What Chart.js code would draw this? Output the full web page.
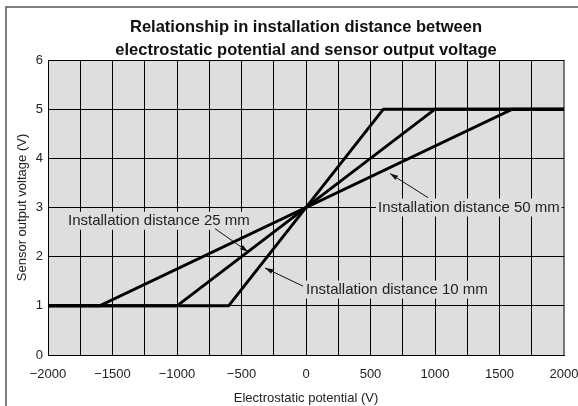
<!DOCTYPE html>
<html>
<head>
<meta charset="utf-8">
<script src="https://cdn.jsdelivr.net/npm/chart.js@4/dist/chart.umd.min.js"></script>
<style>
  html, body { margin: 0; padding: 0; background: #fff; }
</style>
</head>
<body>
<canvas id="distanceChart" width="578" height="406"></canvas>
<script>
// values
const potential10 = [-2000, -600, 600, 2000];
const potential25 = [-2000, -1000, 1000, 2000];
const potential50 = [-2000, -1600, 1600, 2000];
const outputVoltage = [1, 1, 5, 5];
const seriesNames = ["Installation distance 10 mm", "Installation distance 25 mm", "Installation distance 50 mm"];
const titleLines = ["Relationship in installation distance between", "electrostatic potential and sensor output voltage"];

const FONT = "'Liberation Sans', Arial, Helvetica, sans-serif";
const PLOT_BG = "#dedede";

function toPoints(xs) {
  return xs.map((x, i) => ({ x: x, y: outputVoltage[i] }));
}

// leader-line labels, positions in data units
const callouts = [
  { text: seriesNames[1], at: [-1845, 2.73], from: [-705, 2.57], to: [-450, 2.1] },
  { text: seriesNames[0], at: [0, 1.33], from: [-23, 1.4], to: [-318, 1.77] },
  { text: seriesNames[2], at: [558, 3.0], from: [946, 3.2], to: [651, 3.69] },
];

const framePlugin = {
  id: "frame",
  beforeDraw(chart) {
    const { ctx, chartArea: a } = chart;
    ctx.save();
    ctx.fillStyle = PLOT_BG;
    ctx.fillRect(a.left, a.top, a.right - a.left, a.bottom - a.top);
    ctx.strokeStyle = "#555";
    ctx.lineWidth = 1.5;
    ctx.beginPath();
    ctx.moveTo(6, chart.height);
    ctx.lineTo(6, 7);
    ctx.lineTo(chart.width, 7);
    ctx.stroke();
    // title, centred over the plot
    ctx.fillStyle = "#111";
    ctx.font = "bold 16.5px " + FONT;
    ctx.textAlign = "center";
    ctx.textBaseline = "middle";
    const cx = (a.left + a.right) / 2;
    ctx.fillText(titleLines[0], cx, 27);
    ctx.fillText(titleLines[1], cx, 50);
    ctx.restore();
  },
};

const calloutPlugin = {
  id: "callouts",
  beforeDatasetsDraw(chart) {
    const { ctx, scales } = chart;
    const px = (p) => [scales.x.getPixelForValue(p[0]), scales.y.getPixelForValue(p[1])];
    ctx.save();
    ctx.font = "15px " + FONT;
    ctx.textBaseline = "middle";
    callouts.forEach((c) => {
      const [tx, ty] = px(c.at);
      const w = ctx.measureText(c.text).width;
      ctx.fillStyle = PLOT_BG;
      ctx.fillRect(tx - 2, ty - 9, w + 4, 18);
      ctx.fillStyle = "#222";
      ctx.fillText(c.text, tx, ty);

      const [x1, y1] = px(c.from);
      const [x2, y2] = px(c.to);
      ctx.strokeStyle = "#111";
      ctx.lineWidth = 1;
      ctx.beginPath();
      ctx.moveTo(x1, y1);
      ctx.lineTo(x2, y2);
      ctx.stroke();
      const ang = Math.atan2(y2 - y1, x2 - x1);
      ctx.fillStyle = "#111";
      ctx.beginPath();
      ctx.moveTo(x2, y2);
      ctx.lineTo(x2 - 8 * Math.cos(ang) + 2.5 * Math.sin(ang), y2 - 8 * Math.sin(ang) - 2.5 * Math.cos(ang));
      ctx.lineTo(x2 - 8 * Math.cos(ang) - 2.5 * Math.sin(ang), y2 - 8 * Math.sin(ang) + 2.5 * Math.cos(ang));
      ctx.closePath();
      ctx.fill();
    });
    ctx.restore();
  },
};

const lineStyle = { borderColor: "#000", borderWidth: 3, pointRadius: 0, fill: false, tension: 0 };

new Chart(document.getElementById("distanceChart"), {
  type: "line",
  data: {
    datasets: [
      { label: seriesNames[0], data: toPoints(potential10), ...lineStyle },
      { label: seriesNames[1], data: toPoints(potential25), ...lineStyle },
      { label: seriesNames[2], data: toPoints(potential50), ...lineStyle },
    ],
  },
  options: {
    responsive: false,
    animation: false,
    layout: { padding: { top: 60, right: 14, bottom: 0, left: 0 } },
    plugins: { legend: { display: false }, tooltip: { enabled: false } },
    scales: {
      x: {
        type: "linear",
        min: -2000,
        max: 2000,
        afterFit(scale) {
          scale.height = 51;
          scale.paddingLeft = 0;
          scale.paddingRight = 0;
        },
        ticks: {
          stepSize: 250,
          autoSkip: false,
          maxRotation: 0,
          padding: 12,
          color: "#222",
          font: { family: FONT, size: 13 },
          callback: (v) => (v % 500 === 0 ? (v < 0 ? "\u2212" + Math.abs(v) : String(v)) : ""),
        },
        grid: {
          drawTicks: false,
          color: (c) => (c.tick && c.tick.value === 2000 ? "#777" : "#000"),
          lineWidth: (c) => (c.tick && c.tick.value === 2000 ? 2 : 1),
        },
        border: { color: "#000", width: 1 },
        title: {
          display: true,
          text: "Electrostatic potential (V)",
          color: "#222",
          font: { family: FONT, size: 13 },
          padding: { top: 4, bottom: 0 },
        },
      },
      y: {
        min: 0,
        max: 6,
        afterFit(scale) {
          scale.width = 48;
          scale.paddingTop = 0;
          scale.paddingBottom = 0;
        },
        ticks: {
          stepSize: 1,
          padding: 5,
          color: "#222",
          font: { family: FONT, size: 13 },
        },
        grid: { drawTicks: false, color: "#000", lineWidth: 1 },
        border: { color: "#000", width: 1 },
        title: {
          display: true,
          text: "Sensor output voltage (V)",
          color: "#222",
          font: { family: FONT, size: 13 },
          padding: { top: 15, bottom: 0 },
        },
      },
    },
  },
  plugins: [framePlugin, calloutPlugin],
});
</script>
</body>
</html>
